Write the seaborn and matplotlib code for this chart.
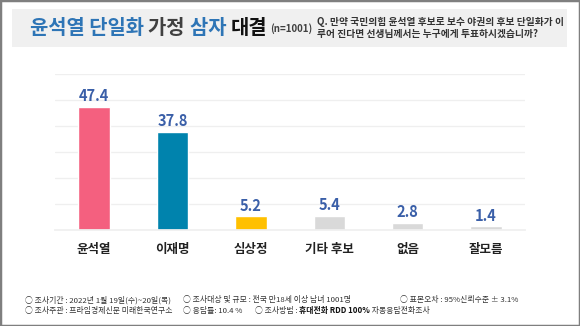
import matplotlib
matplotlib.use("Agg")
import matplotlib.pyplot as plt
import seaborn as sns
import pandas as pd
from matplotlib.patches import Rectangle

categories = ["윤석열", "이재명", "심상정", "기타 후보", "없음", "잘모름"]
values = [47.4, 37.8, 5.2, 5.4, 2.8, 1.4]
bar_colors = ["#F4607F", "#0083AD", "#FFC000", "#D9D9D9", "#D9D9D9", "#D9D9D9"]

title_parts = [("윤석열 단일화 ", "#2E75B6", "bold"), ("가정 ", "#404040", "bold"),
               ("삼자 ", "#2E75B6", "bold"), ("대결", "#111111", "bold")]
sample_note = "(n=1001)"
question = "Q. 만약 국민의힘 윤석열 후보로 보수 야권의 후보 단일화가 이\n루어 진다면 선생님께서는 누구에게 투표하시겠습니까?"

sns.set_theme(style="white")
plt.rcParams['font.family'] = ['Noto Sans CJK KR', 'DejaVu Sans']

fig = plt.figure(figsize=(5.8, 3.26), dpi=100)
W, H = 580, 326

def fx(px): return px / W
def fy(py): return 1 - py / H

# border
fig.patches.append(Rectangle((0, 0), 1, 1, transform=fig.transFigure, fill=False,
                             edgecolor="#7f7f7f", linewidth=2.5, zorder=0))
# title box
fig.patches.append(Rectangle((fx(12), fy(47)), fx(567 - 12), (47 - 9) / H,
                             transform=fig.transFigure, facecolor="#F0F0F0",
                             edgecolor="none", zorder=0))

ax = fig.add_axes([fx(55), fy(230), fx(525 - 55), (230 - 74) / H])
df = pd.DataFrame({"cat": categories, "val": values})
sns.barplot(data=df, x="cat", y="val", hue="cat", palette=bar_colors, legend=False,
            width=0.4, ax=ax, saturation=1)
ax.set_ylim(0, 60)
ax.set_xlim(-0.5, 5.5)
ax.set_yticks([10, 20, 30, 40, 50, 60])
ax.yaxis.grid(True, color="#EFEFEF", linewidth=0.9)
ax.set_axisbelow(True)
ax.tick_params(axis="y", left=False, labelleft=False)
ax.tick_params(axis="x", bottom=False, pad=3)
for lab in ax.get_xticklabels():
    lab.set_fontsize(9)
    lab.set_fontweight("bold")
    lab.set_color("#222222")
ax.set_xlabel("")
ax.set_ylabel("")
for s in ["top", "right", "left"]:
    ax.spines[s].set_visible(False)
ax.spines["bottom"].set_color("#EFEFEF")
ax.set_facecolor("none")
for i, v in enumerate(values):
    ax.annotate(f"{v}", (i, v), xytext=(0, 2), textcoords="offset points",
                ha="center", va="bottom", fontsize=10.5, fontweight="bold",
                color="#3A5FA8")

# title
fig.canvas.draw()
renderer = fig.canvas.get_renderer()
x = fx(30)
for txt, col, wt in title_parts:
    t = fig.text(x, fy(28), txt, fontsize=14.3, fontweight=wt, color=col, va="center", ha="left")
    bb = t.get_window_extent(renderer)
    x += bb.width / W
t = fig.text(x + fx(3), fy(29), sample_note, fontsize=7, color="#404040", va="center", ha="left",
             fontweight="bold")

fig.text(fx(317), fy(28), question, fontsize=7, color="#333333", va="center", ha="left",
         fontweight="bold", linespacing=1.35)

# footer
fs = 5.65
fc = "#333333"
fig.text(fx(25), fy(300), "○ 조사기간 : 2022년 1월 19일(수)~20일(목)", fontsize=fs, color=fc, va="center")
fig.text(fx(183), fy(300), "○ 조사대상 및 규모 : 전국 만18세 이상 남녀 1001명", fontsize=fs, color=fc, va="center")
fig.text(fx(400), fy(300), "○ 표본오차 : 95%신뢰수준 ± 3.1%", fontsize=fs, color=fc, va="center")
fig.text(fx(25), fy(311), "○ 조사주관 : 프라임경제신문 미래한국연구소", fontsize=fs, color=fc, va="center")
fig.text(fx(183), fy(311), "○ 응답률: 10.4 %", fontsize=fs, color=fc, va="center")
t1 = fig.text(fx(255), fy(311), "○ 조사방법 : ", fontsize=fs, color=fc, va="center")
fig.canvas.draw()
x = fx(255) + t1.get_window_extent(renderer).width / W
t2 = fig.text(x, fy(311), "휴대전화 RDD 100%", fontsize=fs, color="#111111", va="center", fontweight="bold")
x += t2.get_window_extent(renderer).width / W
fig.text(x, fy(311), " 자동응답전화조사", fontsize=fs, color=fc, va="center")

fig.savefig("out.png", dpi=100)
